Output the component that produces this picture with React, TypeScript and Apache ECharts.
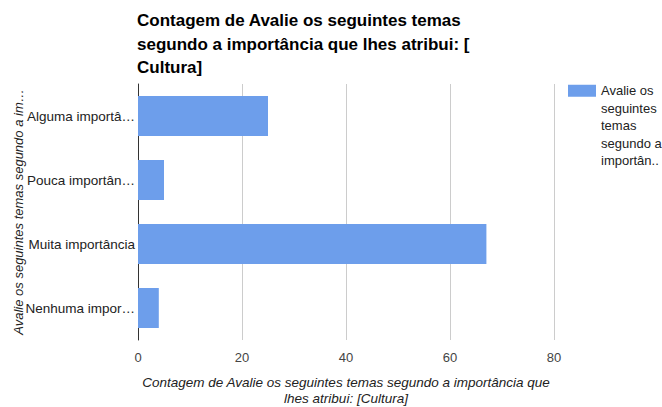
import React, { useEffect, useRef } from "react";
import * as echarts from "echarts";

const categories = ["Alguma importância", "Pouca importância", "Muita importância", "Nenhuma importância"];
const values = [25, 5, 67, 4];
const xTicks = [0, 20, 40, 60, 80];
const seriesName = "Avalie os seguintes temas segundo a importância que lhes atribui: [Cultura]";
const titleText = "Contagem de Avalie os seguintes temas\nsegundo a importância que lhes atribui: [\nCultura]";
const legendLines = ["Avalie os", "seguintes", "temas", "segundo a", "importân.."];
const xName = "Contagem de Avalie os seguintes temas segundo a importância que\nlhes atribui: [Cultura]";
const yName = "Avalie os seguintes temas segundo a im…";

const FONT = "'Liberation Sans', Arial, sans-serif";

export default function App() {
  const ref = useRef<HTMLDivElement>(null);
  useEffect(() => {
    if (!ref.current) return;
    const chart = echarts.init(ref.current, null, { renderer: "svg" });
    const pad = "\n".repeat(legendLines.length - 1);
    chart.setOption({
      animation: false,
      backgroundColor: "#ffffff",
      textStyle: { fontFamily: FONT },
      title: {
        text: titleText,
        left: 132,
        top: 4,
        textStyle: { fontFamily: FONT, fontSize: 17, fontWeight: "bold", color: "#000", lineHeight: 23.5 },
      },
      legend: {
        left: 568,
        top: 12,
        padding: 0,
        itemWidth: 28,
        itemHeight: 12,
        icon: "rect",
        formatter: () => pad + legendLines.join("\n"),
        textStyle: { fontFamily: FONT, fontSize: 13, color: "#222", lineHeight: 17.5 },
      },
      grid: { left: 138, right: 108, top: 84, bottom: 67, containLabel: false, outerBoundsMode: "none" },
      xAxis: {
        type: "value",
        min: xTicks[0],
        max: xTicks[xTicks.length - 1],
        interval: 20,
        name: xName,
        nameLocation: "middle",
        nameGap: 34,
        nameMoveOverlap: false,
        nameTextStyle: { fontFamily: FONT, fontSize: 13.5, fontStyle: "italic", color: "#222", lineHeight: 16.5 },
        axisLine: { show: false },
        axisTick: { show: false },
        axisLabel: { fontFamily: FONT, fontSize: 13, color: "#444", margin: 11 },
        splitLine: { show: true, lineStyle: { color: "#cccccc", width: 1 } },
      },
      yAxis: {
        type: "category",
        data: categories,
        inverse: true,
        name: yName,
        nameLocation: "middle",
        nameRotate: 90,
        nameGap: 113,
        nameMoveOverlap: false,
        nameTextStyle: { fontFamily: FONT, fontSize: 13, fontStyle: "italic", color: "#222" },
        axisLine: { show: true, lineStyle: { color: "#333", width: 1 } },
        axisTick: { show: false },
        axisLabel: {
          fontFamily: FONT,
          fontSize: 13.5,
          color: "#222",
          margin: 3,
          width: 111,
          overflow: "truncate",
          ellipsis: "…",
        },
        splitLine: { show: false },
      },
      series: [
        {
          name: seriesName,
          type: "bar",
          data: values,
          barCategoryGap: "37.5%",
          itemStyle: { color: "#6d9eeb" },
        },
      ],
    });
    return () => chart.dispose();
  }, []);
  return <div ref={ref} style={{ width: 662, height: 407, position: "absolute", left: 0, top: 0 }} />;
}
